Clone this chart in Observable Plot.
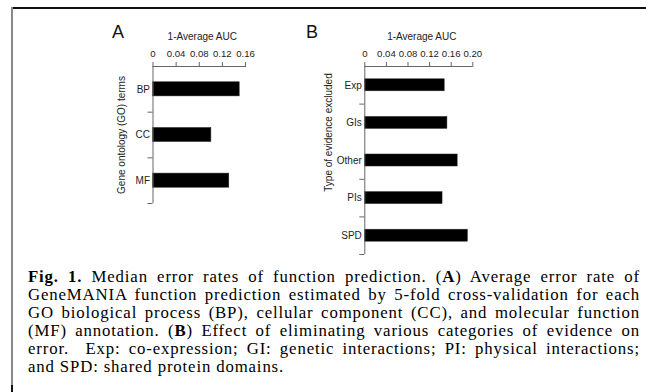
<!DOCTYPE html>
<html>
<head>
<meta charset="utf-8">
<script src="https://cdn.jsdelivr.net/npm/d3@7"></script>
<script src="https://cdn.jsdelivr.net/npm/@observablehq/plot@0.6"></script>
<style>
  html, body { margin: 0; padding: 0; background: #fff; }
  #fig { position: relative; width: 646px; height: 392px; overflow: hidden; background: #fff; }
  #fig svg { position: absolute; left: 0; top: 0; }
  .border-top { position: absolute; left: 11px; top: 7px; width: 640px; height: 2px; background: #111; }
  .border-left { position: absolute; left: 11px; top: 7px; width: 1.5px; height: 385px; background: #888; }
  .border-left-end { position: absolute; left: 11px; top: 385px; width: 2px; height: 7px; background: #111; }
  .letter { position: absolute; font-family: "Liberation Sans", Arial, sans-serif; font-size: 18px; line-height: 18px; color: #111; }
  #caption { position: absolute; left: 28px; top: 268px; width: 612px; font-family: "Liberation Serif", "Times New Roman", serif; font-size: 16.8px; line-height: 18px; letter-spacing: 0.85px; color: #000; }
  #caption div { text-align: justify; text-align-last: justify; white-space: normal; height: 18px; }
  #caption div.last { text-align-last: left; }
</style>
</head>
<body>
<div id="fig">
  <div class="border-top"></div>
  <div class="border-left"></div>
  <div class="border-left-end"></div>
  <div class="letter" style="left:112px; top:23px;">A</div>
  <div class="letter" style="left:306px; top:23px;">B</div>
  <div id="caption">
    <div><b>Fig. 1.</b> Median error rates of function prediction. (<b>A</b>) Average error rate of</div>
    <div>GeneMANIA function prediction estimated by 5-fold cross-validation for each</div>
    <div>GO biological process (BP), cellular component (CC), and molecular function</div>
    <div>(MF) annotation. (<b>B</b>) Effect of eliminating various categories of evidence on</div>
    <div>error.&nbsp; Exp: co-expression; GI: genetic interactions; PI: physical interactions;</div>
    <div class="last">and SPD: shared protein domains.</div>
  </div>
</div>
<script>
// ---- Data ----
const axisTitle = "1-Average AUC";

const panelACategories = ["BP", "CC", "MF"];
const panelAValues = [0.150, 0.101, 0.132];
const panelATicks = [0, 0.04, 0.08, 0.12, 0.16];
const panelABoundaryTicks = [1, 2, 3];
const panelAYLabel = "Gene ontology (GO) terms";

const panelBCategories = ["Exp", "GIs", "Other", "PIs", "SPD"];
const panelBValues = [0.148, 0.153, 0.172, 0.144, 0.191];
const panelBTicks = [0, 0.04, 0.08, 0.12, 0.16, 0.20];
const panelBBoundaryTicks = [1, 3, 4, 5];
const panelBYLabel = "Type of evidence excluded";

const fmt = d => d === 0 ? "0" : d.toFixed(2);
const axisColor = "#666";
const textColor = "#222";

function panel({categories, values, ticks, boundaryTicks, yLabel, width, height,
                marginLeft, marginRight, marginTop, marginBottom, inset, labelDx, labelDy}) {
  const n = categories.length;
  const idx = d3.range(n);
  const xMax = ticks[ticks.length - 1];
  return Plot.plot({
    width, height, marginLeft, marginRight, marginTop, marginBottom,
    style: {fontFamily: "'Liberation Sans', Arial, sans-serif", fontSize: "9.6px", color: textColor, background: "transparent", overflow: "visible"},
    x: {domain: [0, xMax], axis: null},
    y: {domain: [0, n], reverse: true, axis: null},
    marks: [
      Plot.rect(idx, {x1: 0, x2: i => values[i], y1: i => i + inset, y2: i => i + 1 - inset, fill: "#000", stroke: "#333", strokeWidth: 0.5}),
      Plot.ruleX([0], {y1: 0, y2: n, stroke: axisColor}),
      Plot.ruleY([0], {x1: 0, x2: xMax, stroke: axisColor}),
      Plot.axisX({anchor: "top", ticks, tickFormat: fmt, tickSize: 5, tickPadding: 4.5, label: null, stroke: axisColor, fill: textColor}),
      Plot.axisY({anchor: "left", ticks: boundaryTicks, tickSize: 5, tickFormat: () => "", label: null, stroke: axisColor}),
      Plot.axisY({anchor: "left", ticks: idx.map(i => i + 0.5), tickFormat: d => categories[Math.floor(d)], tickSize: 0, tickPadding: 3, label: null, fill: textColor, fontSize: 10}),
      Plot.text([axisTitle], {frameAnchor: "top", dy: -30, dx: 3, fill: textColor, lineAnchor: "middle", fontSize: 10}),
      Plot.text([yLabel], {frameAnchor: "left", textAnchor: "middle", rotate: -90, dx: labelDx, dy: labelDy, fill: textColor, lineAnchor: "middle", fontSize: 10})
    ]
  });
}

const fig = document.getElementById("fig");

const a = panel({
  categories: panelACategories, values: panelAValues, ticks: panelATicks,
  boundaryTicks: panelABoundaryTicks, yLabel: panelAYLabel,
  width: 260, height: 215, marginLeft: 152.5, marginRight: 15, marginTop: 66, marginBottom: 12,
  inset: 0.345, labelDx: -31, labelDy: 0
});
const b = panel({
  categories: panelBCategories, values: panelBValues, ticks: panelBTicks,
  boundaryTicks: panelBBoundaryTicks, yLabel: panelBYLabel,
  width: 500, height: 262, marginLeft: 364.3, marginRight: 27.7, marginTop: 66, marginBottom: 8,
  inset: 0.34, labelDx: -36, labelDy: -28
});
fig.appendChild(a);
fig.appendChild(b);
</script>
</body>
</html>
